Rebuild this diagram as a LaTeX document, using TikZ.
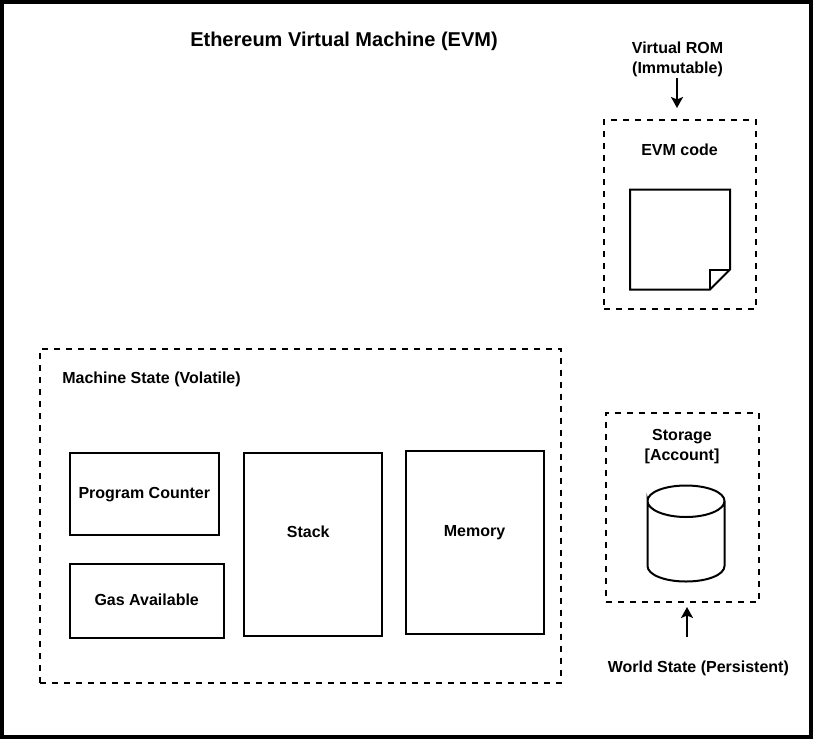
\documentclass[tikz,border=0pt]{standalone}
\usepackage{fontspec}
\setmainfont{Liberation Sans}
\usetikzlibrary{arrows.meta}
\tikzset{
  solidbox/.style={draw, line width=2pt, rectangle, inner sep=0pt, outer sep=0pt},
  dashbox/.style={draw, line width=2pt, rectangle, inner sep=0pt, outer sep=0pt, dash pattern=on 6pt off 6pt},
  boxlabel/.style={font=\fontsize{16}{20}\selectfont\bfseries, align=center, inner sep=0pt},
  titlelabel/.style={font=\fontsize{20}{23}\selectfont\bfseries, inner sep=0pt},
  feedarrow/.style={line width=2pt, -{Stealth[length=11pt, width=12pt, inset=2.5pt]}}
}
\begin{document}
\begin{tikzpicture}[x=1pt, y=-1pt]
  \useasboundingbox (0,0) rectangle (813,739);
  \draw[line width=4pt] (2,2) rectangle (810.5,737);
  \node[titlelabel] (title) at (344,41) {Ethereum Virtual Machine (EVM)};

  \node[dashbox, minimum width=521pt, minimum height=334pt] (machine) at (300.5,516) {};
  \node[boxlabel] (machinelabel) at (151.5,379.5) {Machine State (Volatile)};
  \node[solidbox, minimum width=149.5pt, minimum height=82.5pt] (counter) at (144.5,493.8) {};
  \node[boxlabel] (counterlabel) at (144.3,494.7) {Program Counter};
  \node[solidbox, minimum width=154.5pt, minimum height=74.5pt] (gas) at (146.8,600.8) {};
  \node[boxlabel] (gaslabel) at (146.7,599.5) {Gas Available};
  \node[solidbox, minimum width=138.5pt, minimum height=183.5pt] (stack) at (312.8,544.3) {};
  \node[boxlabel] (stacklabel) at (308.2,531.5) {Stack};
  \node[solidbox, minimum width=138.5pt, minimum height=183.5pt] (memory) at (474.8,542.3) {};
  \node[boxlabel] (memorylabel) at (474.5,533) {Memory};

  \node[boxlabel] (romlabel) at (677.5,59.5) {Virtual ROM\\(Immutable)};
  \coordinate (romtip) at (677,108);
  \draw[feedarrow] (romlabel.south) ++(-0.5,1) -- (romtip);
  \node[dashbox, minimum width=152pt, minimum height=189pt] (evmcode) at (680,214.5) {};
  \node[boxlabel] (evmcodelabel) at (679.5,149.5) {EVM code};
  \node[inner sep=0pt, outer sep=0pt, minimum width=100pt, minimum height=100pt] (page) at (680,239.5) {};
  \draw[line width=2pt, line join=miter] (page.north west) -- (page.north east) -- ++(0,80) -- ++(-20,20) -- (page.south west) -- cycle;
  \draw[line width=2pt] (page.south east) ++(-20,0) -- ++(0,-20) -- ++(20,0);

  \node[dashbox, minimum width=153pt, minimum height=189pt] (storage) at (682.5,507.5) {};
  \node[boxlabel] (storagelabel) at (682,446.5) {Storage\\{[Account]}};
  \node[inner sep=0pt, outer sep=0pt, minimum width=77pt, minimum height=96pt] (drum) at (686,533.5) {};
  \draw[line width=2pt] (drum.west |- 0,501) .. controls (647.5,492.2) and (664.7,485.5) .. (drum.north)
    .. controls (707.3,485.5) and (724.5,492.2) .. (drum.east |- 0,501)
    .. controls (724.5,509.8) and (707.3,517) .. (686,517)
    .. controls (664.7,517) and (647.5,509.8) .. (drum.west |- 0,501)
    -- (drum.west |- 0,566) .. controls (647.5,574.8) and (664.7,581.5) .. (drum.south)
    .. controls (707.3,581.5) and (724.5,574.8) .. (drum.east |- 0,566) -- (drum.east |- 0,501);
  \coordinate (worldtail) at (687,637);
  \coordinate (worldtip) at (687,607);
  \draw[feedarrow] (worldtail) -- (worldtip);
  \node[boxlabel] (worldlabel) at (698.3,668.5) {World State (Persistent)};
\end{tikzpicture}
\end{document}
